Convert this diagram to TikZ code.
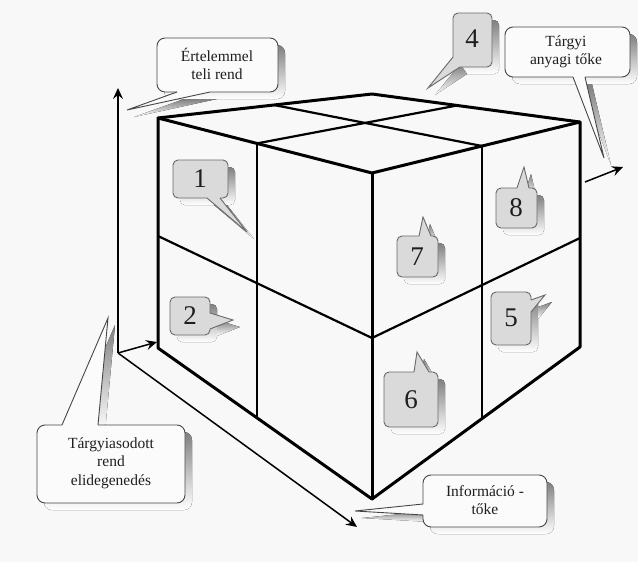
\documentclass[tikz,border=0pt]{standalone}
\usepackage{fontspec}
\setmainfont{Liberation Serif}
\usetikzlibrary{arrows.meta}

\definecolor{paper}{RGB}{248,248,248}
\definecolor{shade}{RGB}{200,200,200}
\definecolor{tagfill}{RGB}{218,218,218}
\definecolor{tagline}{RGB}{105,105,105}
\definecolor{noteline}{RGB}{70,70,70}
\definecolor{notefill}{RGB}{251,251,251}
\definecolor{ink}{RGB}{30,30,30}

\tikzset{
  edge/.style={line width=3pt, line cap=round, line join=round},
  divider/.style={line width=2.2pt, line cap=round},
  axis/.style={line width=1.5pt, -{Stealth[length=11pt,width=10pt,inset=4pt]}},
  notetext/.style={align=center, text=ink, font=\fontsize{15.5}{18.5}\selectfont},
  tagtext/.style={text=ink, font=\fontsize{27}{27}\selectfont, inner sep=0pt},
}

% speech bubble
% #1 fill colour, #2 outline colour, #3 corner radius,
% #4 box as "(x1,y1) rectangle (x2,y2)", #5 pointer "(base) -- (tip) -- (base)",
% #6 outline of the box running from one pointer base round to the other
\newcommand\bubble[6]{%
  \begin{scope}[shift={(7,7)}]
    \fill[shade, rounded corners=#3] #4;
    \fill[shade] #5 -- cycle;
  \end{scope}
  \fill[#1, rounded corners=#3] #4;
  \fill[#1] #5 -- cycle;
  \draw[#2, line width=0.9pt, rounded corners=#3] #6;
  \draw[#2, line width=0.9pt, line join=miter] #5;
}

\begin{document}
\begin{tikzpicture}[x=1pt, y=-1pt]
  \fill[paper] (0,0) rectangle (638,562);
  \useasboundingbox (0,0) rectangle (638,562);

  % cube corners
  \coordinate (A) at (158,118);
  \coordinate (B) at (372,94);
  \coordinate (C) at (580,122);
  \coordinate (D) at (372,173);
  \coordinate (E) at (158,348);
  \coordinate (F) at (372,499);
  \coordinate (G) at (580,347);
  % points on the edges where the faces are split
  \coordinate (P1) at (274,105);
  \coordinate (P2) at (482,146);
  \coordinate (P3) at (457,105.5);
  \coordinate (P4) at (257,143.4);
  \coordinate (M1) at (158,236);
  \coordinate (M2) at (372,338);
  \coordinate (M3) at (580,238);
  \coordinate (L4) at (257,418);
  \coordinate (R4) at (482,418);

  % face splits
  \draw[divider] (P1) -- (P2);
  \draw[divider] (P3) -- (P4);
  \draw[divider] (M1) -- (M2) -- (M3);
  \draw[divider] (P4) -- (L4);
  \draw[divider] (P2) -- (R4);

  % cube outline
  \draw[edge] (A) -- (B) -- (C) -- (G) -- (F) -- (E) -- cycle;
  \draw[edge] (A) -- (D) -- (C);
  \draw[edge] (D) -- (F);

  % axes
  \coordinate (O) at (118,353);
  \coordinate (Oup) at (118,88);
  \coordinate (Oin) at (157,342);
  \coordinate (Oout) at (357,527);
  \coordinate (Rs) at (585,182);
  \coordinate (Re) at (623,167);
  \draw[axis] (O) -- (Oup);
  \draw[axis] (O) -- (Oin);
  \draw[axis] (O) -- (Oout);
  \draw[axis] (Rs) -- (Re);

  % text bubbles
  \bubble{notefill}{noteline}{8pt}{(157,38) rectangle (278,92)}
    {(177,92) -- (127,110) -- (210,92)}
    {(177,92) -- (157,92) -- (157,38) -- (278,38) -- (278,92) -- (210,92)}
  \node[notetext] (rend) at (217,64) {Értelemmel\\teli rend};

  \bubble{notefill}{noteline}{8pt}{(505,27) rectangle (630,77)}
    {(573,77) -- (604,158) -- (585,77)}
    {(573,77) -- (505,77) -- (505,27) -- (630,27) -- (630,77) -- (585,77)}
  \node[notetext] (targyi) at (566,52) {Tárgyi\\anyagi tőke};

  \bubble{notefill}{noteline}{8pt}{(37,425) rectangle (185,503)}
    {(62,425) -- (108,318) -- (98,425)}
    {(98,425) -- (185,425) -- (185,503) -- (37,503) -- (37,425) -- (62,425)}
  \node[notetext] (elid) at (111,463) {Tárgyiasodott\\rend\\elidegenedés};

  \bubble{notefill}{noteline}{8pt}{(423,475) rectangle (547,527)}
    {(423,504) -- (355,511) -- (423,515)}
    {(423,515) -- (423,527) -- (547,527) -- (547,475) -- (423,475) -- (423,504)}
  \node[notetext] (info) at (485,500) {Információ -\\tőke};

  % numbered tags
  \bubble{tagfill}{tagline}{5pt}{(173,160) rectangle (228,198)}
    {(207,198) -- (247,232) -- (220,198)}
    {(207,198) -- (173,198) -- (173,160) -- (228,160) -- (228,198) -- (220,198)}
  \node[tagtext] (t1) at (200,179) {1};

  \bubble{tagfill}{tagline}{5pt}{(170,297) rectangle (210,335)}
    {(210,313) -- (233,320) -- (210,329)}
    {(210,313) -- (210,297) -- (170,297) -- (170,335) -- (210,335) -- (210,329)}
  \node[tagtext] (t2) at (190,316) {2};

  \bubble{tagfill}{tagline}{5pt}{(453,13) rectangle (492,67)}
    {(453,57) -- (428,88) -- (460,67)}
    {(460,67) -- (492,67) -- (492,13) -- (453,13) -- (453,57)}
  \node[tagtext] (t4) at (472,39) {4};

  \bubble{tagfill}{tagline}{5pt}{(491,292) rectangle (531,345)}
    {(531,300) -- (545,295) -- (531,312)}
    {(531,300) -- (531,292) -- (491,292) -- (491,345) -- (531,345) -- (531,312)}
  \node[tagtext] (t5) at (511,318) {5};

  \bubble{tagfill}{tagline}{5pt}{(384,372) rectangle (438,427)}
    {(414,372) -- (417,352) -- (429,372)}
    {(429,372) -- (438,372) -- (438,427) -- (384,427) -- (384,372) -- (414,372)}
  \node[tagtext] (t6) at (411,400) {6};

  \bubble{tagfill}{tagline}{5pt}{(397,236) rectangle (438,277)}
    {(419,236) -- (423,217) -- (431,236)}
    {(431,236) -- (438,236) -- (438,277) -- (397,277) -- (397,236) -- (419,236)}
  \node[tagtext] (t7) at (417,257) {7};

  \bubble{tagfill}{tagline}{5pt}{(496,188) rectangle (537,228)}
    {(517,188) -- (524,167) -- (529,188)}
    {(529,188) -- (537,188) -- (537,228) -- (496,228) -- (496,188) -- (517,188)}
  \node[tagtext] (t8) at (516,208) {8};
\end{tikzpicture}
\end{document}
